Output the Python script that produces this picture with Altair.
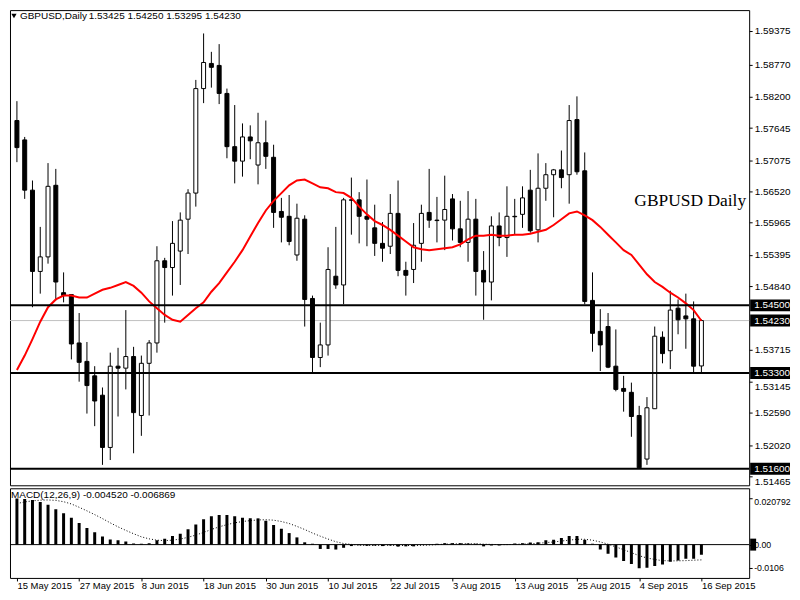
import altair as alt
import pandas as pd

# ---------------- data ----------------
date_labels = ["15 May 2015", "27 May 2015", "8 Jun 2015", "18 Jun 2015", "30 Jun 2015",
               "10 Jul 2015", "22 Jul 2015", "3 Aug 2015", "13 Aug 2015", "25 Aug 2015",
               "4 Sep 2015", "16 Sep 2015"]
date_ticks = [0, 8, 16, 24, 32, 40, 48, 56, 64, 72, 80, 88]

opens = [1.57779, 1.57436, 1.56544, 1.55102, 1.55360, 1.56630, 1.54725, 1.54691, 1.53833, 1.53506,
         1.53249, 1.52906, 1.51979, 1.53421, 1.53386, 1.53592, 1.52546, 1.53472, 1.53833, 1.55291,
         1.55171, 1.55463, 1.56029, 1.56492, 1.58346, 1.58792, 1.58757, 1.58260, 1.57316, 1.57059,
         1.57488, 1.56990, 1.57385, 1.57127, 1.56166, 1.56080, 1.55394, 1.56029, 1.54622, 1.53575,
         1.53798, 1.55017, 1.54862, 1.56372, 1.56372, 1.56080, 1.55875, 1.55600, 1.55549, 1.56132,
         1.55120, 1.55137, 1.55600, 1.56149, 1.56012, 1.56012, 1.56389, 1.55857, 1.55617, 1.56029,
         1.55120, 1.54914, 1.55909, 1.55703, 1.56080, 1.56115, 1.56544, 1.55840, 1.56578, 1.56818,
         1.56904, 1.56818, 1.57796, 1.56887, 1.54588, 1.54038, 1.54124, 1.53421, 1.53026, 1.52957,
         1.52546, 1.51773, 1.52666, 1.53935, 1.53695, 1.54450, 1.54313, 1.54261, 1.53425]
highs = [1.58123, 1.57488, 1.56715, 1.55892, 1.57024, 1.56921, 1.55085, 1.54691, 1.54364, 1.53850,
         1.53421, 1.53043, 1.53661, 1.53747, 1.54416, 1.53764, 1.53609, 1.53884, 1.55549, 1.55343,
         1.55995, 1.56149, 1.56561, 1.58500, 1.59324, 1.58998, 1.59135, 1.58346, 1.58054, 1.57728,
         1.57694, 1.57917, 1.57779, 1.57350, 1.56407, 1.56458, 1.56304, 1.56098, 1.54673, 1.54193,
         1.55531, 1.55892, 1.56407, 1.56767, 1.56509, 1.56733, 1.56286, 1.55978, 1.56475, 1.56715,
         1.55274, 1.55960, 1.56286, 1.56921, 1.56424, 1.56801, 1.56475, 1.56355, 1.56527, 1.56389,
         1.55463, 1.56080, 1.56149, 1.56612, 1.56389, 1.56612, 1.56904, 1.57196, 1.57024, 1.56920,
         1.57247, 1.58054, 1.58208, 1.57213, 1.55085, 1.54433, 1.54364, 1.54073, 1.53249, 1.53129,
         1.52717, 1.52872, 1.54124, 1.54038, 1.54759, 1.54605, 1.54708, 1.54570, 1.54250]
lows = [1.57041, 1.56389, 1.54467, 1.54708, 1.55240, 1.54588, 1.54553, 1.53541, 1.53146, 1.52580,
        1.52357, 1.51670, 1.51756, 1.52528, 1.53009, 1.51876, 1.52185, 1.52546, 1.53661, 1.54193,
        1.54673, 1.54862, 1.55411, 1.56252, 1.58088, 1.58363, 1.58071, 1.57110, 1.56664, 1.56784,
        1.57093, 1.56647, 1.56921, 1.55875, 1.55617, 1.55566, 1.55291, 1.54124, 1.53301, 1.53404,
        1.53609, 1.54793, 1.54519, 1.55754, 1.55600, 1.55549, 1.55377, 1.55274, 1.55411, 1.55017,
        1.54673, 1.54896, 1.55274, 1.55875, 1.55617, 1.55480, 1.55651, 1.55531, 1.55274, 1.54673,
        1.54244, 1.54588, 1.55549, 1.55360, 1.55754, 1.55875, 1.55789, 1.55617, 1.56355, 1.56063,
        1.56578, 1.56304, 1.56818, 1.54519, 1.53678, 1.53335, 1.53386, 1.52975, 1.52614, 1.52168,
        1.51602, 1.51670, 1.52666, 1.53472, 1.53369, 1.53987, 1.53730, 1.53283, 1.53295]
closes = [1.57299, 1.56544, 1.55102, 1.55360, 1.56612, 1.54914, 1.54673, 1.53815, 1.53489, 1.53077,
          1.52803, 1.51979, 1.53421, 1.53386, 1.53592, 1.52597, 1.53472, 1.53833, 1.55291, 1.55171,
          1.55600, 1.56012, 1.56492, 1.58346, 1.58809, 1.58723, 1.58260, 1.57316, 1.57059, 1.57488,
          1.57419, 1.57385, 1.57144, 1.56149, 1.56063, 1.55634, 1.56046, 1.54605, 1.53575, 1.53798,
          1.55137, 1.54862, 1.56372, 1.56365, 1.56080, 1.56029, 1.55600, 1.55514, 1.56132, 1.55120,
          1.55034, 1.55566, 1.56132, 1.56012, 1.56004, 1.56201, 1.55857, 1.55617, 1.56029, 1.55102,
          1.54914, 1.55909, 1.55703, 1.56080, 1.56072, 1.56407, 1.55823, 1.56578, 1.56818, 1.56904,
          1.56767, 1.57779, 1.56870, 1.54570, 1.54004, 1.53798, 1.53404, 1.53009, 1.52975, 1.52528,
          1.51619, 1.52683, 1.53953, 1.53644, 1.54416, 1.54244, 1.54261, 1.53421, 1.54230]
ma_red = [1.53352, 1.53609, 1.53901, 1.54210, 1.54467, 1.54605, 1.54673, 1.54673, 1.54639, 1.54639,
          1.54708, 1.54776, 1.54811, 1.54862, 1.54914, 1.54845, 1.54725, 1.54570, 1.54450, 1.54330,
          1.54244, 1.54210, 1.54330, 1.54450, 1.54553, 1.54742, 1.54896, 1.55085, 1.55274, 1.55480,
          1.55720, 1.55960, 1.56183, 1.56355, 1.56492, 1.56630, 1.56715, 1.56733, 1.56664, 1.56595,
          1.56578, 1.56509, 1.56492, 1.56407, 1.56252, 1.56115, 1.55995, 1.55926, 1.55840, 1.55737,
          1.55634, 1.55531, 1.55497, 1.55480, 1.55497, 1.55514, 1.55531, 1.55583, 1.55669, 1.55737,
          1.55737, 1.55754, 1.55737, 1.55737, 1.55754, 1.55754, 1.55772, 1.55806, 1.55840, 1.55926,
          1.56029, 1.56132, 1.56166, 1.56098, 1.56012, 1.55892, 1.55754, 1.55617, 1.55480, 1.55394,
          1.55222, 1.55051, 1.54914, 1.54828, 1.54725, 1.54639, 1.54536, 1.54416, 1.54227]
macd_main = [0.020792, 0.02052, 0.02013, 0.01922, 0.01792, 0.01597, 0.01416, 0.01208, 0.00974, 0.00753,
             0.00558, 0.00364, 0.00234, 0.00195, 0.00143, 0.00052, 0.00039, 0.00065, 0.00195, 0.00260,
             0.00390, 0.00494, 0.00688, 0.00909, 0.01143, 0.01273, 0.01338, 0.01338, 0.01273, 0.01208,
             0.01182, 0.01182, 0.01078, 0.00883, 0.00714, 0.00519, 0.00325, 0.00104, 0.00039, -0.00195,
             -0.00195, -0.00221, -0.00143, -0.00065, -0.00026, -0.00052, -0.00039, -0.00065, -0.00039, -0.00091,
             -0.00078, -0.00078, 0.00005, 0.00003, 0.00039, 0.00065, 0.00065, 0.00065, 0.00052, 0.00039,
             -0.00078, -0.00039, -0.00039, 0.00013, 0.00052, 0.00065, 0.00091, 0.00104, 0.00195, 0.00221,
             0.00299, 0.00390, 0.00390, 0.00221, 0.00039, -0.00221, -0.00416, -0.00584, -0.00740, -0.00870,
             -0.010679, -0.01039, -0.00961, -0.00896, -0.00766, -0.00714, -0.00636, -0.00636, -0.00452]
macd_signal = [0.0185, 0.0192, 0.0197, 0.0200, 0.0201, 0.0199, 0.0193, 0.0183, 0.0168, 0.0152,
               0.0135, 0.0117, 0.0098, 0.0080, 0.0064, 0.0049, 0.0035, 0.0026, 0.0020, 0.0018,
               0.0020, 0.0025, 0.0033, 0.0043, 0.0055, 0.0068, 0.0080, 0.0090, 0.0098, 0.0104,
               0.0108, 0.0111, 0.0112, 0.0110, 0.0104, 0.0095, 0.0082, 0.0068, 0.0052, 0.0038,
               0.0025, 0.0013, 0.0005, 0.0001, -0.0003, -0.0004, -0.0004, -0.0003, -0.0003, -0.0004,
               -0.0004, -0.0004, -0.0003, -0.0002, 0.0000, 0.0002, 0.0003, 0.0004, 0.0004, 0.0004,
               0.0002, 0.0001, 0.0000, 0.0000, 0.0001, 0.0003, 0.0004, 0.0006, 0.0009, 0.0012,
               0.0016, 0.0020, 0.0024, 0.0024, 0.0020, 0.0012, 0.0002, -0.0010, -0.0023, -0.0036,
               -0.0050, -0.0060, -0.0067, -0.0072, -0.0073, -0.0073, -0.0072, -0.0070, -0.006869]

level_prices = [1.5450, 1.5330, 1.5160]
bid_price = 1.5423
price_ticks = [1.59375, 1.58770, 1.58200, 1.57645, 1.57075, 1.56520, 1.55965, 1.55395, 1.54840,
               1.53715, 1.53145, 1.52590, 1.52020, 1.51465]
macd_ticks = [0.020792, 0.0, -0.010679]
macd_tick_labels = ["0.020792", "0.00", "-0.010679"]

header_name = "GBPUSD,Daily"
header_ohlc = "1.53425 1.54250 1.53295 1.54230"
macd_caption = "MACD(12,26,9) -0.004520 -0.006869"
chart_caption = "GBPUSD Daily"

# ---------------- tables ----------------
bars = pd.DataFrame({"i": list(range(len(opens))), "open": opens, "high": highs, "low": lows,
                     "close": closes, "ma": ma_red, "macd": macd_main, "signal": macd_signal})
levels = pd.DataFrame({"p": level_prices})
boxes = pd.DataFrame({"p": level_prices + [bid_price]})
bid = pd.DataFrame({"p": [bid_price]})
mt = pd.DataFrame({"v": macd_ticks, "t": macd_tick_labels})
zero_df = pd.DataFrame({"z": [0.0]})

FONT = "Liberation Sans"
W = 742
x_scale = alt.Scale(domain=[-0.25, 93.5], nice=False, zero=False)
p_scale = alt.Scale(domain=[1.51396, 1.59650], nice=False, zero=False)
m_scale = alt.Scale(domain=[-0.01275, 0.02311], nice=False, zero=False)

# labels that sit just under a price box are hung below their tick, as in the reference
below_box = "(datum.value > 1.5313 && datum.value < 1.5316) || datum.value < 1.5150"
p_axis = alt.Axis(orient="right", values=price_ticks, format=".5f", title=None, grid=False,
                  domain=False, tickSize=3, tickColor="black", labelColor="black", labelFont=FONT,
                  labelFontSize=10, labelPadding=2, labelOverlap=False, labelFlush=False,
                  labelBaseline=alt.condition(below_box, alt.value("top"), alt.value("middle")))
label_expr = "[" + ",".join("'%s'" % d for d in date_labels) + "][round(datum.value/8)]"
x_axis = alt.Axis(orient="bottom", values=date_ticks, labelExpr=label_expr, title=None, grid=False,
                  domain=False, tickSize=3, tickColor="black", labelColor="black", labelFont=FONT,
                  labelFontSize=9.5, labelAlign="left", labelBaseline="top", labelPadding=0,
                  labelOverlap=False, labelFlush=False)
m_axis = alt.Axis(orient="right", values=macd_ticks, labels=False, title=None, grid=False,
                  domain=False, tickSize=3, tickColor="black")


def px(axis=None):
    return alt.X("i:Q", scale=x_scale, axis=axis)


def py(field):
    return alt.Y(field, scale=p_scale, axis=p_axis)


def my(field):
    return alt.Y(field, scale=m_scale, axis=m_axis)


# ---------------- price pane ----------------
bid_line = alt.Chart(bid).mark_rule(color="#c0c0c0", strokeWidth=1).encode(y=py("p:Q"))
wicks = alt.Chart(bars).mark_rule(color="black", strokeWidth=1, clip=True).encode(
    x=px(), y=py("low:Q"), y2="high:Q")
bodies = alt.Chart(bars).mark_bar(size=4, stroke="black", strokeWidth=1, clip=True).encode(
    x=px(), y=py("open:Q"), y2="close:Q",
    fill=alt.condition("datum.close >= datum.open", alt.value("white"), alt.value("black")))
ma_line = alt.Chart(bars).mark_line(color="#ff0000", strokeWidth=2, clip=True).encode(
    x=px(), y=py("ma:Q"))
level_rules = alt.Chart(levels).mark_rule(color="black", strokeWidth=2).encode(y=py("p:Q"))
box_marks = alt.Chart(boxes).mark_bar(orient="horizontal", size=12, color="black").encode(
    y=py("p:Q"), x=alt.value(743), x2=alt.value(783))
box_text = alt.Chart(boxes).mark_text(color="white", align="left", baseline="middle", font=FONT,
                                      fontSize=10).encode(
    y=py("p:Q"), x=alt.value(747), text=alt.Text("p:Q", format=".5f"))
caption = alt.Chart(pd.DataFrame({"t": [chart_caption]})).mark_text(
    font="Liberation Serif", fontSize=17.5, align="right", baseline="alphabetic", color="black"
).encode(x=alt.value(739), y=alt.value(197), text="t:N")
tri = alt.Chart(pd.DataFrame({"t": [1]})).mark_point(
    shape="triangle-down", filled=True, color="black", size=28, opacity=1
).encode(x=alt.value(4), y=alt.value(6))
head1 = alt.Chart(pd.DataFrame({"t": [header_name]})).mark_text(
    font=FONT, fontSize=10, align="left", baseline="middle", color="black"
).encode(x=alt.value(10), y=alt.value(6), text="t:N")
head2 = alt.Chart(pd.DataFrame({"t": [header_ohlc]})).mark_text(
    font=FONT, fontSize=10, align="left", baseline="middle", color="black"
).encode(x=alt.value(79), y=alt.value(6), text="t:N")

main = alt.layer(bid_line, wicks, bodies, ma_line, level_rules, box_marks, box_text,
                 caption, tri, head1, head2).properties(width=W, height=477)

# ---------------- MACD pane ----------------
zero_rule = alt.Chart(zero_df).mark_rule(color="black", strokeWidth=1).encode(y=my("z:Q"))
hist = alt.Chart(bars).mark_bar(size=3, color="black", clip=True).encode(
    x=px(x_axis), y=my("macd:Q"), y2=alt.datum(0))
sig = alt.Chart(bars).mark_line(color="black", strokeWidth=1, strokeDash=[1, 2], clip=True).encode(
    x=px(x_axis), y=my("signal:Q"))
macd_cap = alt.Chart(pd.DataFrame({"t": [macd_caption]})).mark_text(
    font=FONT, fontSize=10, align="left", baseline="middle", color="black"
).encode(x=alt.value(1), y=alt.value(7), text="t:N")
macd_lab_top = alt.Chart(mt.iloc[[0]]).mark_text(
    font=FONT, fontSize=8.8, align="left", baseline="top", color="black", limit=37, ellipsis=" "
).encode(y=my("v:Q"), x=alt.value(747), text="t:N")
macd_lab = alt.Chart(mt.iloc[1:]).mark_text(
    font=FONT, fontSize=8.8, align="left", baseline="middle", color="black", limit=37, ellipsis=" "
).encode(y=my("v:Q"), x=alt.value(747), text="t:N")
zero_box = alt.Chart(zero_df).mark_bar(orient="horizontal", size=12, color="black").encode(
    y=my("z:Q"), x=alt.value(743), x2=alt.value(749))

macd = alt.layer(zero_rule, hist, sig, macd_cap, macd_lab_top, macd_lab, zero_box).properties(
    width=W, height=90)

chart = alt.vconcat(main, macd, spacing=3).properties(
    padding=0, bounds="flush", background="white"
).configure_view(stroke="black", strokeWidth=1)

chart.save("out.html", embed_options={"renderer": "svg", "actions": False})
